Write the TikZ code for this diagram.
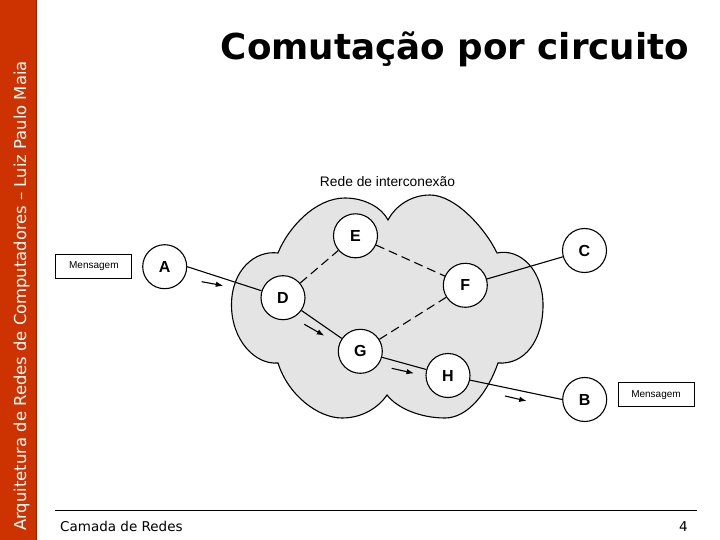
\documentclass[tikz,border=0pt]{standalone}
\usepackage{fontspec}
\setmainfont{Liberation Sans}
\newfontfamily\dejavu{DejaVu Sans}
\usetikzlibrary{arrows.meta}
\definecolor{sidebar}{HTML}{CC3300}
\definecolor{sideedge}{HTML}{8B2500}
\definecolor{cloudgray}{HTML}{E4E4E4}
\begin{document}
\begin{tikzpicture}[x=1pt,y=-1pt,
  station/.style={circle, draw, line width=1.1pt, fill=white, minimum size=44pt, inner sep=0pt, font=\fontsize{16}{16}\selectfont\bfseries},
  msgbox/.style={draw, line width=1pt, fill=white, minimum width=76pt, minimum height=24pt, inner sep=0pt, font=\fontsize{10}{10}\selectfont},
  link/.style={line width=1.1pt},
  dlink/.style={line width=1.1pt, dash pattern=on 9pt off 5pt},
  flow/.style={line width=1.1pt, -{Latex[length=7.5pt,width=5.5pt]}}
]
\useasboundingbox (0,0) rectangle (720,540);
\fill[white] (0,0) rectangle (720,540);
% sidebar
\fill[sidebar] (0,0) rectangle (36,540);
\draw[sideedge, line width=1pt] (36,0) -- (36,540);
\node[rotate=90, text=white, font=\dejavu\fontsize{16.4}{16.4}\selectfont, anchor=base, inner sep=0pt] (side) at (26,296) {Arquitetura de Redes de Computadores – Luiz Paulo Maia};
% title
\node[font=\dejavu\bfseries\fontsize{35.7}{35.7}\selectfont, anchor=base, inner sep=0pt] (title) at (455,60) {Comutação por circuito};
% footer
\draw[line width=0.8pt] (55,510) -- (697,510);
\node[anchor=base west, inner sep=0pt, font=\dejavu\fontsize{13.5}{13.5}\selectfont] (foot) at (60,531) {Camada de Redes};
\node[anchor=base east, inner sep=0pt, font=\dejavu\fontsize{13.5}{13.5}\selectfont] (page) at (688,531) {4};
% cloud
\filldraw[fill=cloudgray, line width=1.1pt] (278,253) .. controls (288,228) and (315,198) .. (345,198)
  .. controls (365,198) and (382,208) .. (388,220)
  .. controls (396,205) and (412,195) .. (430,195)
  .. controls (455,195) and (485,228) .. (497,253)
  .. controls (520,248) and (543,270) .. (543,305)
  .. controls (543,340) and (525,365) .. (498,363)
  .. controls (488,392) and (468,418) .. (445,418)
  .. controls (420,418) and (397,408) .. (387,395)
  .. controls (378,408) and (362,418) .. (342,418)
  .. controls (318,418) and (288,395) .. (278,363)
  .. controls (255,365) and (231.5,340) .. (231.5,305)
  .. controls (231.5,270) and (255,250) .. (278,253) -- cycle;
\node[anchor=base, inner sep=0pt, font=\fontsize{13.8}{13.8}\selectfont] (netlabel) at (387.5,187) {Rede de interconexão};
% stations
\node[station] (A) at (164.7,266.7) {A};
\node[station] (C) at (584.5,250.5) {C};
\node[station] (B) at (584.7,399.5) {B};
\node[station] (D) at (283,297.7) {D};
\node[station] (E) at (355.5,235.8) {E};
\node[station] (F) at (465.3,285.3) {F};
\node[station] (G) at (360.3,351.3) {G};
\node[station] (H) at (448,375.5) {H};
% message boxes
\node[msgbox] (msgA) at (93.9,266) {Mensagem};
\node[msgbox] (msgB) at (656,394.9) {Mensagem};
% links
\draw[link] (A.east) -- (D);
\draw[link] (D) -- (G);
\draw[link] (G) -- (H);
\draw[link] (H) -- (B.west);
\draw[link] (F) -- (C);
\draw[dlink] (D) -- (E);
\draw[dlink] (E) -- (F);
\draw[dlink] (G) -- (F);
% flow arrows
\coordinate (f1s) at (201.7,281.7);
\coordinate (f1e) at (223.3,285.7);
\coordinate (f2s) at (304.3,324.3);
\coordinate (f2e) at (324.3,335.7);
\coordinate (f3s) at (391.7,368.3);
\coordinate (f3e) at (414,373.3);
\coordinate (f4s) at (505,396);
\coordinate (f4e) at (526.7,401);
\draw[flow] (f1s) -- (f1e);
\draw[flow] (f2s) -- (f2e);
\draw[flow] (f3s) -- (f3e);
\draw[flow] (f4s) -- (f4e);
\end{tikzpicture}
\end{document}
